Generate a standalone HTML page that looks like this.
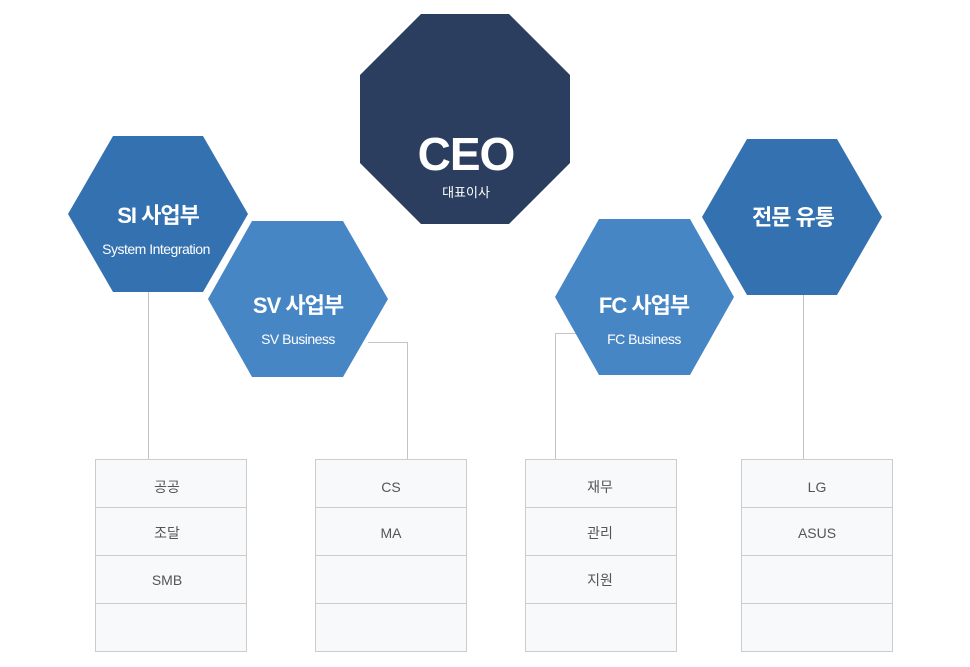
<!DOCTYPE html>
<html><head><meta charset="utf-8"><style>
html,body{margin:0;padding:0;background:#fff;}
svg{display:block;font-family:"Liberation Sans","Noto Sans CJK KR",sans-serif;}
</style></head><body>
<svg width="970" height="667" viewBox="0 0 970 667" xmlns="http://www.w3.org/2000/svg">
<g stroke="#c4c4c4" stroke-width="1" fill="none">
<line x1="148.5" y1="292" x2="148.5" y2="459"/>
<polyline points="368,342.5 407.5,342.5 407.5,459"/>
<polyline points="578,333.5 555.5,333.5 555.5,459"/>
<line x1="803.5" y1="294" x2="803.5" y2="459"/>
</g>
<polygon points="421,14 509,14 570,75 570,163 509,224 421,224 360,163 360,75" fill="#2c3e5f"/>
<text x="466" y="170" fill="#fff" font-size="46" font-weight="bold" text-anchor="middle" letter-spacing="-1">CEO</text>
<text x="466" y="197" fill="#fff" font-size="13" text-anchor="middle">대표이사</text>

<polygon points="113,136 203,136 248,214 203,292 113,292 68,214" fill="#3471b0"/>
<text x="158" y="223" fill="#fff" font-size="22" font-weight="bold" text-anchor="middle" letter-spacing="-1">SI 사업부</text>
<text x="156" y="254" fill="#fff" font-size="14" text-anchor="middle" letter-spacing="-0.5">System Integration</text>

<polygon points="252,221 343,221 388,299 343,377 252,377 208,299" fill="#4786c5"/>
<text x="298" y="313" fill="#fff" font-size="22" font-weight="bold" text-anchor="middle" letter-spacing="-1">SV 사업부</text>
<text x="298" y="344" fill="#fff" font-size="14" text-anchor="middle" letter-spacing="-0.5">SV Business</text>

<polygon points="599,219 690,219 734,297 690,375 599,375 555,297" fill="#4786c5"/>
<text x="644" y="313" fill="#fff" font-size="22" font-weight="bold" text-anchor="middle" letter-spacing="-1">FC 사업부</text>
<text x="644" y="344" fill="#fff" font-size="14" text-anchor="middle" letter-spacing="-0.5">FC Business</text>

<polygon points="747,139 837,139 882,217 837,295 747,295 702,217" fill="#3471b0"/>
<text x="793" y="225" fill="#fff" font-size="22" font-weight="bold" text-anchor="middle" letter-spacing="-1">전문 유통</text>

<g fill="#f8f9fb" stroke="#cccccc" stroke-width="1">
<rect x="95.5" y="459.5" width="151" height="48"/><rect x="95.5" y="507.5" width="151" height="48"/><rect x="95.5" y="555.5" width="151" height="48"/><rect x="95.5" y="603.5" width="151" height="48"/>
<rect x="315.5" y="459.5" width="151" height="48"/><rect x="315.5" y="507.5" width="151" height="48"/><rect x="315.5" y="555.5" width="151" height="48"/><rect x="315.5" y="603.5" width="151" height="48"/>
<rect x="525.5" y="459.5" width="151" height="48"/><rect x="525.5" y="507.5" width="151" height="48"/><rect x="525.5" y="555.5" width="151" height="48"/><rect x="525.5" y="603.5" width="151" height="48"/>
<rect x="741.5" y="459.5" width="151" height="48"/><rect x="741.5" y="507.5" width="151" height="48"/><rect x="741.5" y="555.5" width="151" height="48"/><rect x="741.5" y="603.5" width="151" height="48"/>
</g>
<g fill="#555" font-size="14" text-anchor="middle">
<text x="167" y="492">공공</text><text x="167" y="538">조달</text><text x="167" y="585">SMB</text>
<text x="391" y="492">CS</text><text x="391" y="538">MA</text>
<text x="600" y="492">재무</text><text x="600" y="538">관리</text><text x="600" y="585">지원</text>
<text x="817" y="492">LG</text><text x="817" y="538">ASUS</text>
</g>
</svg>
</body></html>
